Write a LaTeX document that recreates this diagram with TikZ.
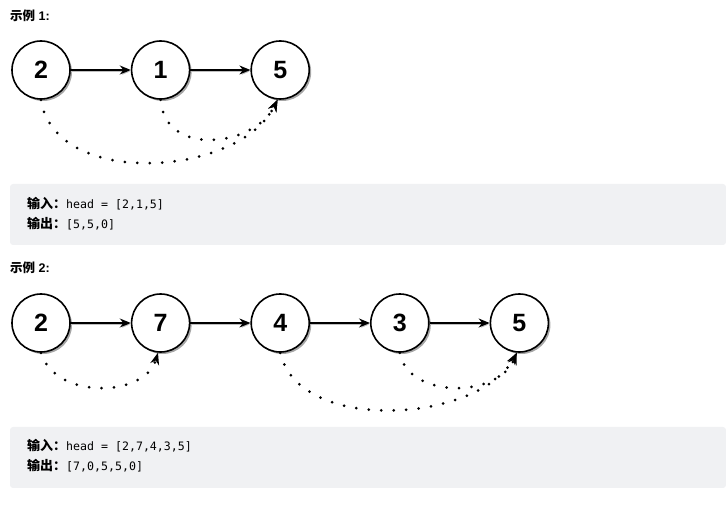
\documentclass[tikz,border=0pt]{standalone}
\usepackage{fontspec}
\setmainfont{Liberation Sans}
\setmonofont{DejaVu Sans Mono}
\newfontfamily\cjk{Noto Sans CJK SC}
\usetikzlibrary{arrows.meta,positioning,shadows}
\definecolor{codebg}{HTML}{F0F1F3}

\begin{document}
\begin{tikzpicture}[x=1pt, y=-1pt,
  >=Stealth, node distance=60pt,
  num/.style={draw, circle, line width=1.6pt, minimum size=58pt, inner sep=0pt, fill=white,
    font=\fontsize{25}{25}\selectfont\bfseries,
    drop shadow={shadow xshift=2pt, shadow yshift=-2pt, fill=black!35, opacity=1}},
  nxt/.style={-{Stealth[length=11pt,width=9pt]}, line width=1.5pt,
    preaction={draw=black!25, transform canvas={shift={(0.5pt,-1.5pt)}}}},
  jump/.style={-{Stealth[length=12pt,width=9pt]}, line width=3pt, dash pattern=on 0pt off 12.5pt, line cap=round},
  title/.style={anchor=west, inner sep=0pt, font=\fontsize{12.5}{12.5}\selectfont\bfseries},
  codebox/.style={fill=codebg, rounded corners=3pt},
  line/.style={anchor=west, inner sep=0pt, font=\ttfamily\fontsize{11.6}{12}\selectfont}]
  \useasboundingbox (0,0) rectangle (726,510);

  % example 1
  \node[title] (t1) at (10,16) {{\cjk 示例} 1:};
  \node[num] (a1) at (41,70) {2};
  \node[num, right=of a1] (a2) {1};
  \node[num, right=of a2] (a3) {5};
  \draw[nxt] (a1) -- (a2);
  \draw[nxt] (a2) -- (a3);
  \draw[jump] (a1.south) .. controls +(14,90) and +(-38,77) .. (a3.-95);
  \draw[jump] (a2.south) .. controls +(4,58) and +(-23,47) .. (a3.-95);

  \fill[codebox] (10,184) rectangle (726,245);
  \node[line] (in1) at (27,204) {{\cjk\bfseries\fontsize{13}{13}\selectfont 输入：}head = [2,1,5]};
  \node[line] (out1) at (27,224) {{\cjk\bfseries\fontsize{13}{13}\selectfont 输出：}[5,5,0]};

  % example 2
  \node[title] (t2) at (10,268) {{\cjk 示例} 2:};
  \node[num] (b1) at (41,323) {2};
  \node[num, right=of b1] (b2) {7};
  \node[num, right=of b2] (b3) {4};
  \node[num, right=of b3] (b4) {3};
  \node[num, right=of b4] (b5) {5};
  \foreach \i/\j in {b1/b2,b2/b3,b3/b4,b4/b5}
    \draw[nxt] (\i) -- (\j);
  \draw[jump] (b1.south) .. controls +(14,47) and +(-13,45) .. (b2.-95);
  \draw[jump] (b3.south) .. controls +(19,82) and +(-38,70) .. (b5.-95);
  \draw[jump] (b4.south) .. controls +(9,47) and +(-18,45) .. (b5.-95);

  \fill[codebox] (10,427) rectangle (726,488);
  \node[line] (in2) at (27,446) {{\cjk\bfseries\fontsize{13}{13}\selectfont 输入：}head = [2,7,4,3,5]};
  \node[line] (out2) at (27,466) {{\cjk\bfseries\fontsize{13}{13}\selectfont 输出：}[7,0,5,5,0]};
\end{tikzpicture}
\end{document}
